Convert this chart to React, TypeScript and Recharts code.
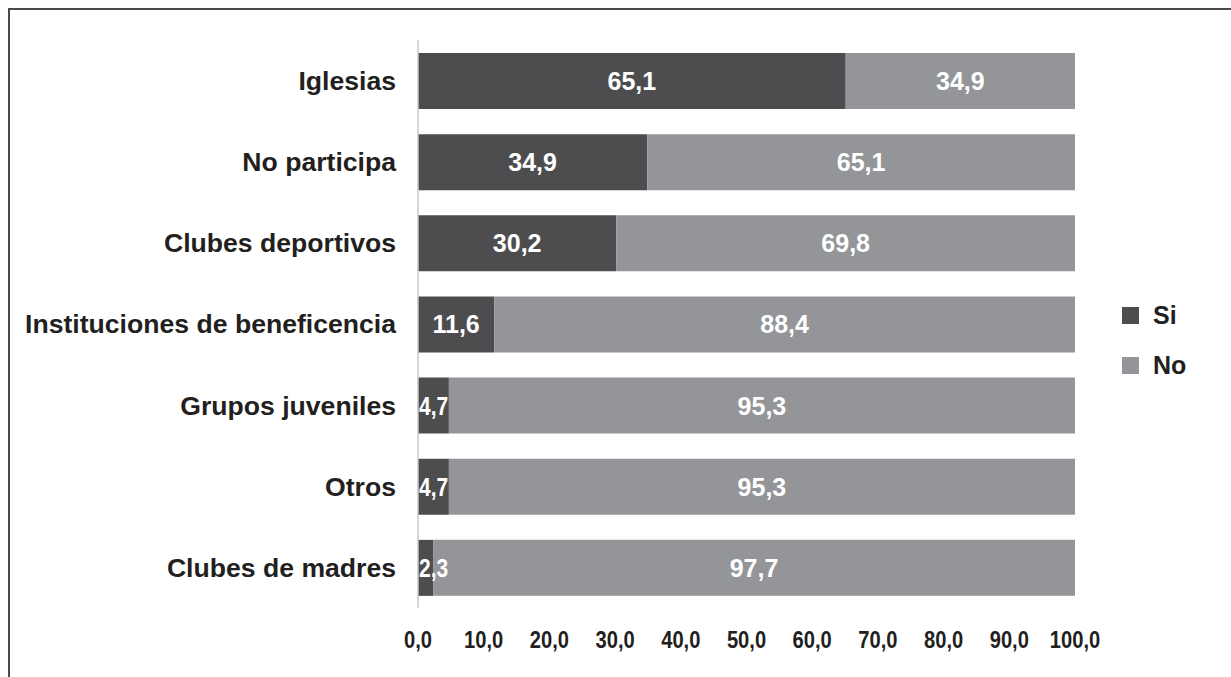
import { BarChart, Bar, XAxis, YAxis, Legend, LabelList } from 'recharts'

const categories = [
  'Iglesias',
  'No participa',
  'Clubes deportivos',
  'Instituciones de beneficencia',
  'Grupos juveniles',
  'Otros',
  'Clubes de madres',
]
const siValues = [65.1, 34.9, 30.2, 11.6, 4.7, 4.7, 2.3]
const noValues = [34.9, 65.1, 69.8, 88.4, 95.3, 95.3, 97.7]
const xTicks = [0, 10, 20, 30, 40, 50, 60, 70, 80, 90, 100]
const seriesNames = ['Si', 'No']

const data = categories.map((name, i) => ({
  name,
  si: siValues[i],
  no: noValues[i],
}))

const DARK = '#4d4d4f'
const LIGHT = '#939598'
const TEXT = '#231f20'
const FONT = '"Liberation Sans", Arial, sans-serif'
// no narrow face installed, so squeeze the regular one
const SQUEEZE = 0.84

const fmt = (v: number) => Number(v).toFixed(1).replace('.', ',')

function XTick(props: any) {
  const { x, y, payload } = props
  return (
    <g transform={`translate(${x},${y})`}>
      <text
        transform={`scale(${SQUEEZE},1)`}
        textAnchor="middle"
        dy={17}
        fill={TEXT}
        fontFamily={FONT}
        fontWeight="bold"
        fontSize={24}
      >
        {fmt(payload.value)}
      </text>
    </g>
  )
}

function ValueLabel(props: any) {
  const { x, y, width, height, value } = props
  const cy = y + height / 2
  // tiny segments: label pushed to the left edge in a narrow face
  if (width < 40) {
    return (
      <g transform={`translate(${x + 1},${cy})`}>
        <text
          transform={`scale(${SQUEEZE},1)`}
          textAnchor="start"
          dy={9}
          fill="#ffffff"
          fontFamily={FONT}
          fontWeight="bold"
          fontSize={25}
        >
          {fmt(value)}
        </text>
      </g>
    )
  }
  return (
    <text
      x={x + width / 2}
      y={cy}
      dy={9}
      textAnchor="middle"
      fill="#ffffff"
      fontFamily={FONT}
      fontWeight="bold"
      fontSize={25}
    >
      {fmt(value)}
    </text>
  )
}

function LegendBox(props: any) {
  const payload = props.payload || []
  return (
    <div style={{ fontFamily: FONT, fontWeight: 'bold', fontSize: 25, color: TEXT }}>
      {seriesNames.map((n) => {
        const item = payload.find((p: any) => p.value === n)
        return (
          <div key={n} style={{ display: 'flex', alignItems: 'center', height: 50 }}>
            <span
              style={{
                display: 'inline-block',
                width: 17,
                height: 17,
                marginRight: 14,
                background: item ? item.color : n === 'Si' ? DARK : LIGHT,
              }}
            />
            {n}
          </div>
        )
      })}
    </div>
  )
}

export default function App() {
  return (
    <div style={{ position: 'fixed', left: 0, top: 0, width: 1231, height: 677, background: '#fff' }}>
      <div
        style={{
          position: 'absolute',
          left: 8,
          top: 8,
          width: 1223,
          height: 669,
          boxSizing: 'border-box',
          borderTop: '2px solid #4a4a4a',
          borderLeft: '2px solid #4a4a4a',
        }}
      >
        <BarChart
          width={1221}
          height={659}
          data={data}
          layout="vertical"
          margin={{ top: 30, right: 156, bottom: 0, left: 0 }}
        >
          <XAxis
            type="number"
            domain={[0, 100]}
            ticks={xTicks}
            interval={0}
            axisLine={false}
            tickLine={false}
            tickSize={0}
            tickMargin={23}
            height={61}
            tick={XTick}
          />
          <YAxis
            type="category"
            dataKey="name"
            width={408}
            interval={0}
            axisLine={{ stroke: '#c8c8c8', strokeWidth: 1.5 }}
            tickLine={false}
            tickSize={0}
            tickMargin={22}
            tick={{ fill: TEXT, fontSize: 26.6, fontWeight: 'bold', fontFamily: FONT }}
          />
          <Legend
            layout="vertical"
            align="center"
            verticalAlign="middle"
            content={LegendBox}
            wrapperStyle={{ left: 1112, top: 280, width: 'auto' }}
          />
          <Bar dataKey="si" name="Si" stackId="a" fill={DARK} barSize={56} isAnimationActive={false}>
            <LabelList dataKey="si" content={ValueLabel} />
          </Bar>
          <Bar dataKey="no" name="No" stackId="a" fill={LIGHT} barSize={56} isAnimationActive={false}>
            <LabelList dataKey="no" content={ValueLabel} />
          </Bar>
        </BarChart>
      </div>
    </div>
  )
}
